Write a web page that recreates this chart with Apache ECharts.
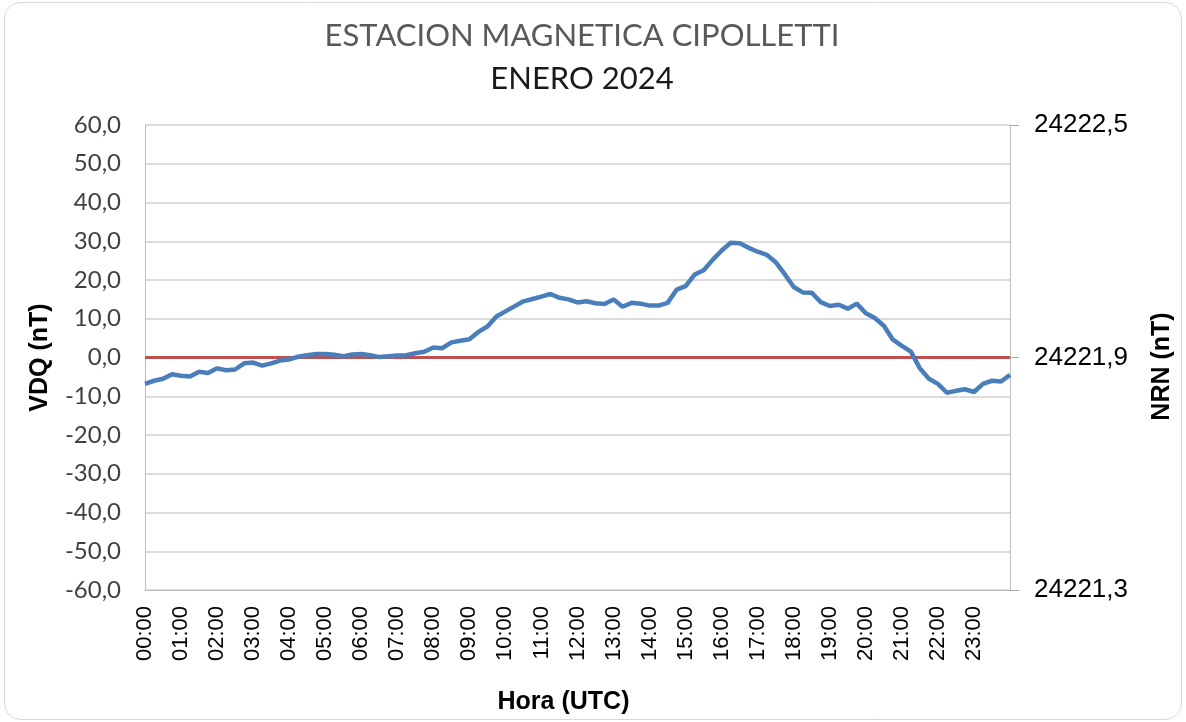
<!DOCTYPE html>
<html>
<head>
<meta charset="utf-8">
<title>Estacion Magnetica Cipolletti</title>
<script src="https://cdn.jsdelivr.net/npm/echarts@6/dist/echarts.min.js"></script>
<style>
  html, body { margin: 0; padding: 0; background: #ffffff; }
  #chart { width: 1186px; height: 722px; }
</style>
</head>
<body>
<div id="chart"></div>
<script>
// VDQ cada 15 minutos (nT)
const vdqValues = [
  -6.8, -6.0, -5.5, -4.3, -4.7, -4.9, -3.7, -4.0,
  -2.8, -3.3, -3.1, -1.5, -1.3, -2.1, -1.5, -0.8,
  -0.5, 0.2, 0.6, 0.9, 0.9, 0.7, 0.3, 0.8,
  0.9, 0.6, 0.1, 0.3, 0.5, 0.6, 1.1, 1.5,
  2.6, 2.4, 3.9, 4.3, 4.7, 6.6, 8.0, 10.6,
  11.9, 13.2, 14.5, 15.1, 15.7, 16.4, 15.4, 15.0,
  14.2, 14.5, 14.0, 13.8, 15.0, 13.1, 14.1, 13.9,
  13.4, 13.4, 14.1, 17.5, 18.4, 21.4, 22.5, 25.2,
  27.6, 29.6, 29.5, 28.3, 27.3, 26.5, 24.6, 21.5,
  18.2, 16.8, 16.7, 14.3, 13.3, 13.6, 12.6, 13.9,
  11.4, 10.2, 8.2, 4.6, 3.0, 1.5, -2.8, -5.5,
  -6.8, -9.1, -8.6, -8.2, -8.9, -6.8, -6.0, -6.2,
  -4.5
];

// NRN de referencia (nT), linea roja
const nrnTimes = ["00:00", "24:00"];
const nrnValues = [24221.9, 24221.9];

// eje derecho
const nrnMin = 24221.3;
const nrnMax = 24222.5;
const nrnStep = 0.6;

// categorias de tiempo, una cada 15 minutos
let times = [];
for (let i = 0; i < vdqValues.length; i++) {
  let h = Math.floor(i / 4);
  let m = (i % 4) * 15;
  times.push(String(h).padStart(2, "0") + ":" + String(m).padStart(2, "0"));
}

const comma = (v, d) => v.toFixed(d).replace(".", ",");

let chartDom = document.getElementById("chart");
let myChart = echarts.init(chartDom);

let option = {
  animation: false,
  backgroundColor: "#ffffff",
  title: [
    {
      text: "ESTACION MAGNETICA CIPOLLETTI",
      left: 577,
      textAlign: "center",
      top: 15,
      textStyle: { fontFamily: "Lato", fontWeight: "normal", fontSize: 31, color: "#595959" },
    },
    {
      text: "ENERO 2024",
      left: 577,
      textAlign: "center",
      top: 58,
      textStyle: { fontFamily: "Lato", fontWeight: "normal", fontSize: 31, color: "#1a1a1a" },
    },
  ],
  graphic: [
    {
      type: "rect",
      shape: { x: 4.5, y: 2.5, width: 1177, height: 717, r: 16 },
      style: { fill: "none", stroke: "#d9d9d9", lineWidth: 1 },
      silent: true,
    },
  ],
  grid: { left: 145, right: 176, top: 125, bottom: 132 },
  xAxis: {
    type: "category",
    data: times,
    boundaryGap: false,
    name: "Hora (UTC)",
    nameLocation: "middle",
    nameGap: 100,
    nameTextStyle: {
      fontFamily: "Liberation Sans",
      fontWeight: "bold",
      fontSize: 25,
      color: "#000",
      padding: [0, 28, 0, 0],
    },
    axisLine: { onZero: false, lineStyle: { color: "#bfbfbf", width: 1 } },
    axisTick: { show: false },
    splitLine: { show: false },
    axisLabel: {
      rotate: 90,
      interval: (idx) => idx % 4 === 0 && idx < vdqValues.length - 1,
      margin: 16,
      fontFamily: "Liberation Sans",
      fontSize: 22,
      color: "#000",
    },
  },
  yAxis: [
    {
      type: "value",
      min: -60,
      max: 60,
      interval: 10,
      name: "VDQ (nT)",
      nameLocation: "middle",
      nameGap: 92,
      nameTextStyle: { fontFamily: "Liberation Sans", fontWeight: "bold", fontSize: 25, color: "#000" },
      axisLine: { show: true, lineStyle: { color: "#bfbfbf", width: 1 } },
      axisTick: { show: false },
      splitLine: { lineStyle: { color: "#d0d0d0", width: 1.5 } },
      axisLabel: {
        margin: 24,
        fontFamily: "Lato",
        fontSize: 24,
        color: "#404040",
        formatter: (v) => comma(v, 1),
      },
    },
    {
      type: "value",
      min: nrnMin,
      max: nrnMax,
      interval: nrnStep,
      name: "NRN (nT)",
      nameLocation: "middle",
      nameGap: 140,
      nameTextStyle: {
        fontFamily: "Liberation Sans",
        fontWeight: "bold",
        fontSize: 25,
        color: "#000",
        padding: [0, 18, 0, 0],
      },
      axisLine: { show: true, lineStyle: { color: "#bfbfbf", width: 1 } },
      axisTick: { show: true, inside: false, length: 9, lineStyle: { color: "#a6a6a6" } },
      splitLine: { show: false },
      axisLabel: {
        margin: 24,
        fontFamily: "Liberation Sans",
        fontSize: 26,
        color: "#000",
        formatter: (v) => comma(v, 1),
      },
    },
  ],
  series: [
    {
      name: "VDQ",
      type: "line",
      yAxisIndex: 0,
      data: vdqValues,
      showSymbol: false,
      lineStyle: { color: "#4a7ebb", width: 4.5 },
      itemStyle: { color: "#4a7ebb" },
      z: 3,
    },
    {
      name: "NRN",
      type: "line",
      yAxisIndex: 1,
      data: nrnTimes.map((t, i) => [t, nrnValues[i]]),
      showSymbol: false,
      lineStyle: { color: "#c0504d", width: 3 },
      itemStyle: { color: "#c0504d" },
      z: 2,
    },
  ],
};

option && myChart.setOption(option);
</script>
</body>
</html>
